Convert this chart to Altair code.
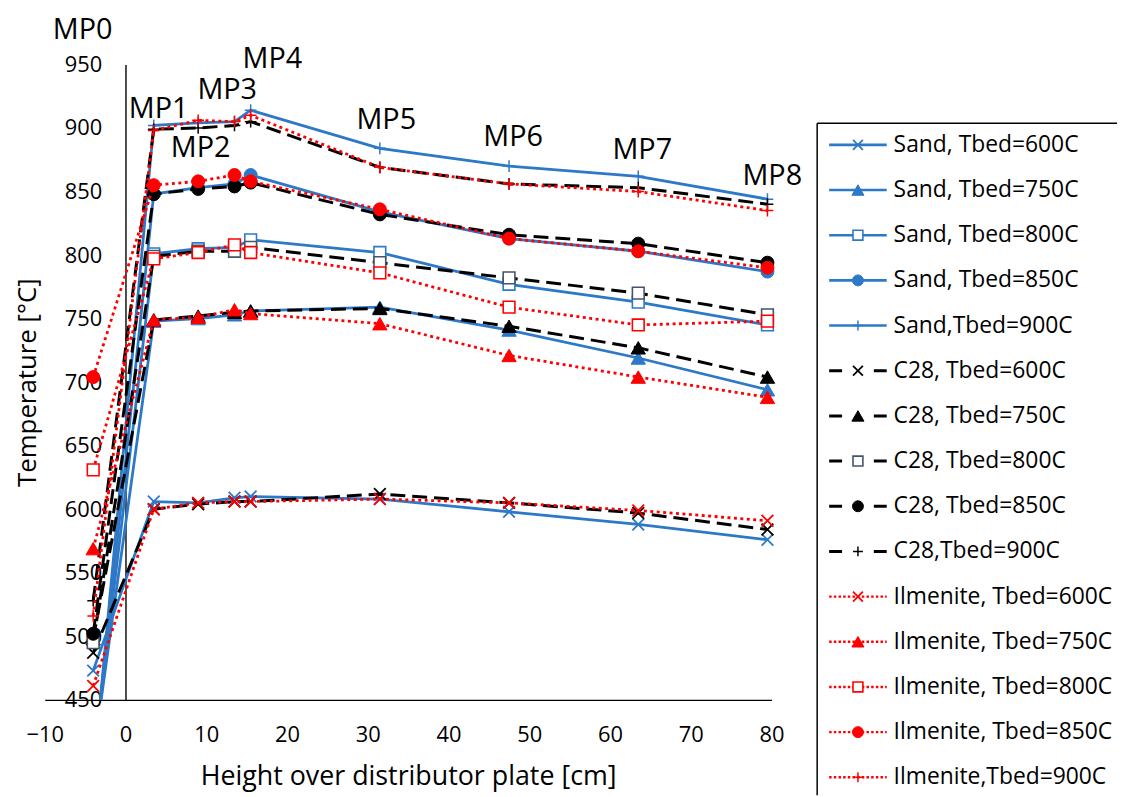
import altair as alt
import pandas as pd

# ---------------- data ----------------
heights = [-4, 3.5, 9, 13.5, 15.5, 31.5, 47.5, 63.5, 79.5]

sand_600 = [473, 606, 605, 609, 610, 608, 598, 588, 576]
sand_750 = [405, 748, 750, 753, 756, 759, 741, 719, 694]
sand_800 = [400, 801, 805, 806, 812, 802, 777, 763, 745]
sand_850 = [395, 848, 853, 856, 863, 834, 813, 803, 787]
sand_900 = [390, 902, 904, 905, 914, 884, 870, 862, 844]

c28_600 = [487, 600, 604, 606, 606, 612, 605, 597, 584]
c28_750 = [498, 749, 752, 755, 756, 758, 744, 727, 704]
c28_800 = [495, 799, 803, 803, 806, 794, 782, 770, 753]
c28_850 = [502, 848, 852, 854, 857, 832, 816, 809, 794]
c28_900 = [528, 899, 900, 902, 905, 869, 856, 853, 840]

ilm_600 = [461, 600, 605, 606, 606, 608, 605, 599, 591]
ilm_750 = [569, 749, 751, 757, 754, 746, 721, 704, 688]
ilm_800 = [631, 797, 802, 808, 802, 786, 759, 745, 748]
ilm_850 = [704, 855, 858, 863, 858, 836, 813, 803, 790]
ilm_900 = [516, 898, 906, 905, 910, 869, 856, 850, 835]

series_labels = [
    "Sand, Tbed=600C", "Sand, Tbed=750C", "Sand, Tbed=800C", "Sand, Tbed=850C", "Sand,Tbed=900C",
    "C28, Tbed=600C", "C28, Tbed=750C", "C28, Tbed=800C", "C28, Tbed=850C", "C28,Tbed=900C",
    "Ilmenite, Tbed=600C", "Ilmenite, Tbed=750C", "Ilmenite, Tbed=800C", "Ilmenite, Tbed=850C",
    "Ilmenite,Tbed=900C",
]
series_values = [sand_600, sand_750, sand_800, sand_850, sand_900,
                 c28_600, c28_750, c28_800, c28_850, c28_900,
                 ilm_600, ilm_750, ilm_800, ilm_850, ilm_900]
series_group = ["sand"] * 5 + ["c28"] * 5 + ["ilm"] * 5
series_marker = ["x", "triangle", "square", "circle", "plus"] * 3

mp_labels = ["MP0", "MP1", "MP2", "MP3", "MP4", "MP5", "MP6", "MP7", "MP8"]
mp_label_x = [-5.3, 4.1, 9.3, 12.6, 18.2, 32.3, 48.0, 64.0, 80.1]
mp_label_y = [977, 915, 884, 930, 954, 906, 893, 883, 862]

x_ticks = [-10, 0, 10, 20, 30, 40, 50, 60, 70, 80]
y_ticks = [450, 500, 550, 600, 650, 700, 750, 800, 850, 900, 950]

# ---------------- styles ----------------
FONT = "Open Sans"
BLUE = "#2E78C8"
RED = "#FF0000"
BLACK = "#000000"
SLATE = "#44546A"
X_PATH = "M-1,-1L1,1M-1,1L1,-1"
PLUS_PATH = "M-1,0L1,0M0,-1L0,1"

group_color = {"sand": BLUE, "c28": BLACK, "ilm": RED}
group_line = {
    "sand": dict(strokeWidth=2.8),
    "c28": dict(strokeWidth=3, strokeDash=[15, 7]),
    "ilm": dict(strokeWidth=2.8, strokeDash=[3, 3.5]),
}
group_legend_line = {
    "sand": dict(strokeWidth=2.6),
    "c28": dict(strokeWidth=3, strokeDash=[13, 32]),
    "ilm": dict(strokeWidth=2.4, strokeDash=[2.5, 2.2]),
}


def point_props(marker, color, mstroke, size):
    if marker == "x":
        return dict(shape=X_PATH, filled=False, stroke=color, strokeWidth=1.8, size=size * 0.9)
    if marker == "plus":
        return dict(shape=PLUS_PATH, filled=False, stroke=color, strokeWidth=1.5, size=size * 0.9)
    if marker == "triangle":
        return dict(shape="triangle-up", filled=True, fill=color, stroke=color, strokeWidth=1, size=size * 1.35)
    if marker == "square":
        return dict(shape="square", filled=True, fill="white", stroke=mstroke, strokeWidth=1.6, size=size * 0.9)
    return dict(shape="circle", filled=True, fill=color, stroke=color, strokeWidth=1, size=size * 1.1)


rows = []
for lab, vals in zip(series_labels, series_values):
    for h, v in zip(heights, vals):
        rows.append({"series": lab, "h": h, "t": v})
df = pd.DataFrame(rows)

x_scale = alt.Scale(domain=[-10, 80], range=[0, 732], nice=False, zero=False)
y_scale = alt.Scale(domain=[450, 950], nice=False, zero=False)

x_axis = alt.Axis(
    values=x_ticks, title="Height over distributor plate [cm]", ticks=False, tickSize=0,
    labelPadding=25, labelFlush=False, labelOverlap=False, grid=False,
    domainColor=BLACK, domainWidth=1.4,
    labelFont=FONT, labelFontSize=22, labelColor=BLACK,
    titleFont=FONT, titleFontSize=27, titleFontWeight="normal", titleColor=BLACK,
    titleY=85, titleBaseline="alphabetic",
)
y_axis = alt.Axis(
    values=y_ticks, title="Temperature [°C]", offset=-81.33, ticks=False, tickSize=0,
    labelPadding=24, labelFlush=False, labelOverlap=False, grid=False,
    domainColor=BLACK, domainWidth=1.4,
    labelFont=FONT, labelFontSize=22, labelColor=BLACK,
    titleFont=FONT, titleFontSize=26, titleFontWeight="normal", titleColor=BLACK,
    titleX=-99, titleY=320, titleAngle=270, titleAlign="center", titleBaseline="middle",
)
X = alt.X("h:Q", scale=x_scale, axis=x_axis)
Y = alt.Y("t:Q", scale=y_scale, axis=y_axis)

main_layers = []
for lab, grp, mk in zip(series_labels, series_group, series_marker):
    col = group_color[grp]
    mstroke = SLATE if (grp == "c28" and mk == "square") else col
    base = alt.Chart().transform_filter(alt.datum.series == lab)
    main_layers.append(base.mark_line(color=col, clip=True, **group_line[grp]).encode(x=X, y=Y))
    main_layers.append(
        base.mark_point(opacity=1, clip=True, **point_props(mk, col, mstroke, 155)).encode(x=X, y=Y)
    )

mp_df = pd.DataFrame({"label": mp_labels, "h": mp_label_x, "t": mp_label_y})
main_layers.append(
    alt.Chart(mp_df).mark_text(font=FONT, fontSize=29, color=BLACK, align="center", baseline="middle")
    .encode(x=X, y=Y, text="label:N")
)
main = alt.layer(*main_layers, data=df)

# ---------------- legend (own scales) ----------------
LEG_LINE_X1, LEG_LINE_X2, LEG_MARK_X, LEG_TEXT_X = 0.04, 0.232, 0.136, 0.255
leg_df = pd.DataFrame({
    "label": series_labels,
    "row": list(range(len(series_labels))),
    "x1": LEG_LINE_X1, "x2": LEG_LINE_X2, "xm": LEG_MARK_X, "xt": LEG_TEXT_X,
})
lx = alt.Scale(domain=[0, 1], range=[778, 1080], nice=False, zero=False)
ly = alt.Scale(domain=[0, 14], range=[81, 718], nice=False, zero=False)
LY = alt.Y("row:Q", scale=ly, axis=None)

legend_layers = []
border_df = pd.DataFrame({"bx": [0.0], "bx2": [1.0], "by": [-0.48], "by2": [14.4]})
legend_layers.append(
    alt.Chart(border_df).mark_rule(color=BLACK, strokeWidth=1.5).encode(
        x=alt.X("bx:Q", scale=lx, axis=None), y=alt.Y("by:Q", scale=ly, axis=None), y2="by2:Q")
)
legend_layers.append(
    alt.Chart(border_df).mark_rule(color=BLACK, strokeWidth=1.5).encode(
        x=alt.X("bx:Q", scale=lx, axis=None), x2="bx2:Q", y=alt.Y("by:Q", scale=ly, axis=None))
)
for i, (lab, grp, mk) in enumerate(zip(series_labels, series_group, series_marker)):
    col = group_color[grp]
    mstroke = SLATE if (grp == "c28" and mk == "square") else col
    base = alt.Chart().transform_filter(alt.datum.row == i)
    legend_layers.append(
        base.mark_rule(color=col, **group_legend_line[grp]).encode(
            x=alt.X("x1:Q", scale=lx, axis=None), x2="x2:Q", y=LY)
    )
    legend_layers.append(
        base.mark_point(opacity=1, **point_props(mk, col, mstroke, 110)).encode(
            x=alt.X("xm:Q", scale=lx, axis=None), y=LY)
    )
legend_layers.append(
    alt.Chart().mark_text(font=FONT, fontSize=23, color=BLACK, align="left", baseline="middle").encode(
        x=alt.X("xt:Q", scale=lx, axis=None), y=LY, text="label:N")
)
legend = alt.layer(*legend_layers, data=leg_df)

chart = (
    alt.layer(main, legend)
    .resolve_scale(x="independent", y="independent")
    .properties(
        width=1080, height=640,
        autosize=alt.AutoSizeParams(type="none"),
        padding={"left": 37, "top": 54, "right": 0, "bottom": 95},
        background="white",
    )
    .configure_view(stroke=None)
)

chart.save("out.html", embed_options={"renderer": "svg", "actions": False})
